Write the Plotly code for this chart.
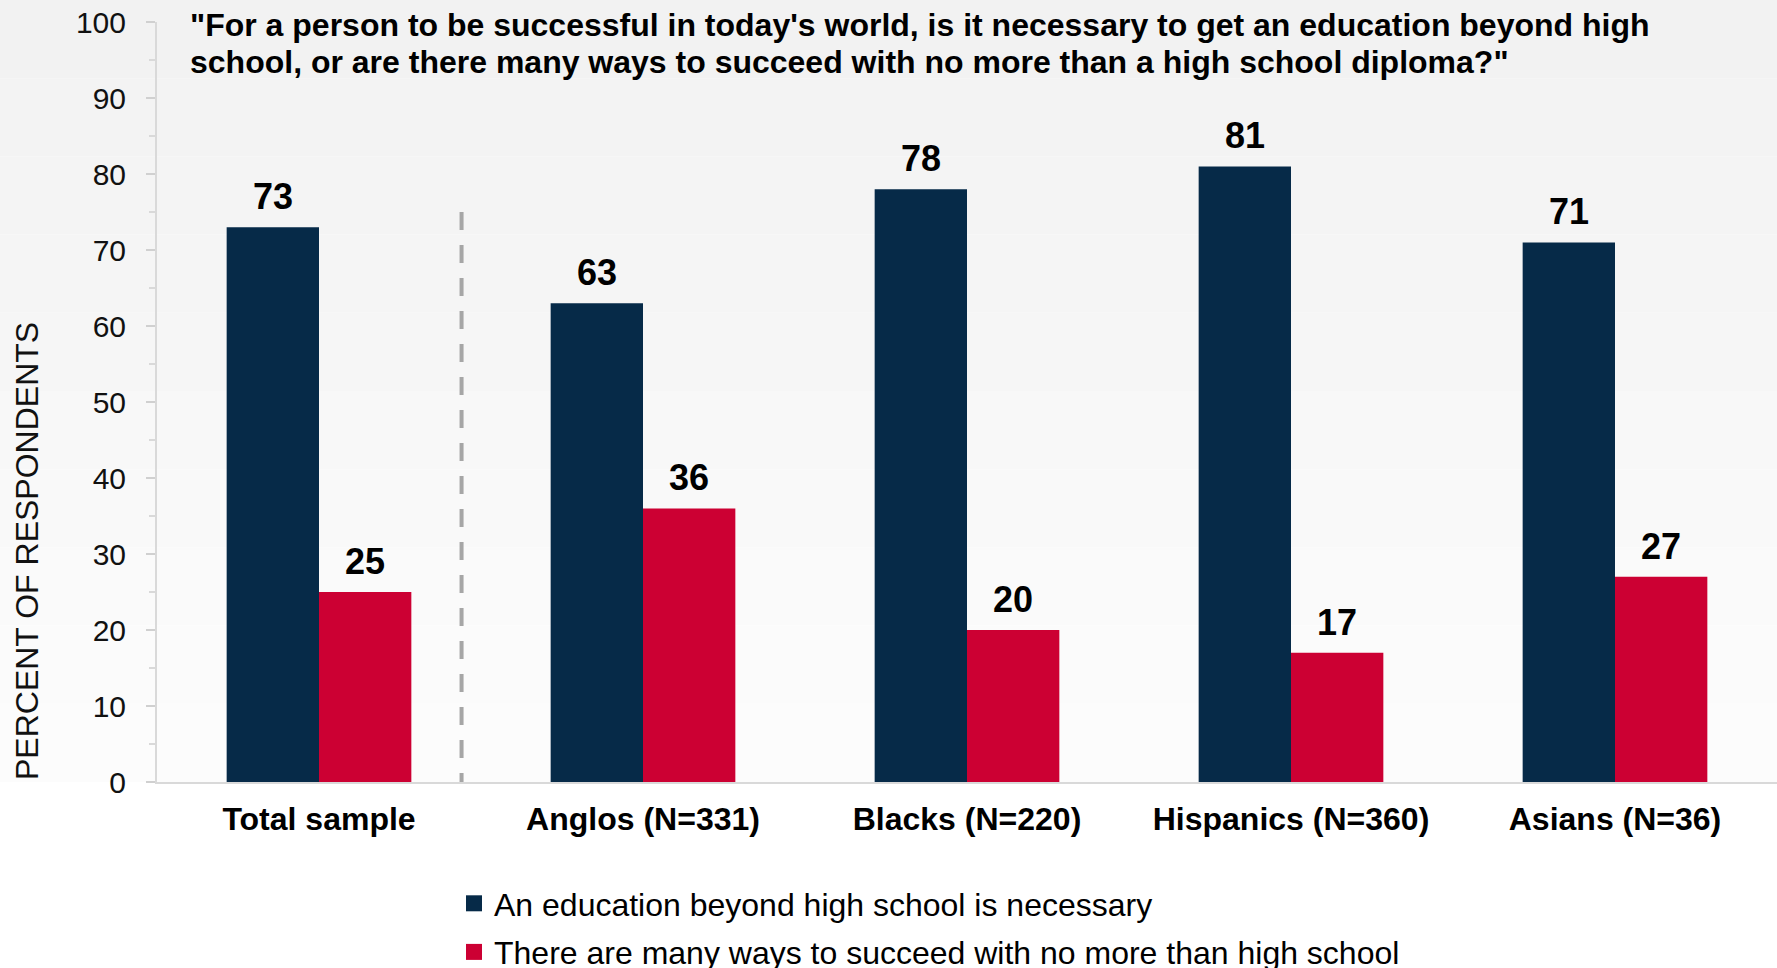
import plotly.graph_objects as go

# Survey results, percent of respondents
groups = ["Total sample", "Anglos (N=331)", "Blacks (N=220)", "Hispanics (N=360)", "Asians (N=36)"]
necessary = [73, 63, 78, 81, 71]
many_ways = [25, 36, 20, 17, 27]
series_names = [
    "An education beyond high school is necessary",
    "There are many ways to succeed with no more than high school",
]
y_ticks = [0, 10, 20, 30, 40, 50, 60, 70, 80, 90, 100]
question_lines = [
    "\"For a person to be successful in today's world, is it necessary to get an education beyond high",
    "school, or are there many ways to succeed with no more than a high school diploma?\"",
]

NAVY = "#062a48"
RED = "#cc0033"
FONT = "Liberation Sans, Arial, sans-serif"

W, H = 1777, 968
M_L, M_R, M_T, M_B = 157, 0, 22, 186
BAR_W = 0.285

x_pos = list(range(len(groups)))

fig = go.Figure()
fig.add_trace(go.Bar(x=x_pos, y=necessary, width=BAR_W, offset=-BAR_W,
                     marker=dict(color=NAVY, line=dict(width=0)), showlegend=False,
                     name=series_names[0]))
fig.add_trace(go.Bar(x=x_pos, y=many_ways, width=BAR_W, offset=0,
                     marker=dict(color=RED, line=dict(width=0)), showlegend=False,
                     name=series_names[1]))

# legend swatches
for name, col, grp in [(series_names[0], NAVY, "a"), (series_names[1], RED, "b")]:
    fig.add_trace(go.Scatter(x=[None], y=[None], mode="markers", name=name,
                             legendgroup=grp,
                             marker=dict(symbol="square", size=16, color=col)))

plot_h = H - M_T - M_B


def py(px):
    """Pixel row from the top of the page -> paper y."""
    return (H - M_B - px) / plot_h


def px_x(px):
    return (px - M_L) / (W - M_L - M_R)


# value labels above each bar
label_font = dict(family=FONT, size=36, color="#000000", weight="bold")
annotations = []
for i, v in enumerate(necessary):
    annotations.append(dict(x=i - BAR_W / 2, y=v, xref="x", yref="y", text=str(v),
                            showarrow=False, yanchor="bottom", yshift=8, font=label_font))
for i, v in enumerate(many_ways):
    annotations.append(dict(x=i + BAR_W / 2, y=v, xref="x", yref="y", text=str(v),
                            showarrow=False, yanchor="bottom", yshift=8, font=label_font))

# question text, one annotation per line
for line, center in zip(question_lines, [25, 62]):
    annotations.append(dict(x=px_x(188), y=py(center), xref="paper", yref="paper", text=line,
                            showarrow=False, xanchor="left", yanchor="middle", align="left",
                            font=dict(family=FONT, size=32, color="#000000", weight="bold")))

annotations.append(dict(x=px_x(27), y=0, xref="paper", yref="paper",
                        text="PERCENT OF RESPONDENTS", textangle=-90,
                        showarrow=False, xanchor="center", yanchor="bottom",
                        font=dict(family=FONT, size=32, color="#111111")))

# soft vertical background gradient
shapes = []
top_px, bot_px = 0, H - M_B
steps = 10
c0, c1 = 242, 252
for k in range(steps):
    y0 = top_px + (bot_px - top_px) * k / steps
    y1 = top_px + (bot_px - top_px) * (k + 1) / steps
    c = round(c0 + (c1 - c0) * k / (steps - 1))
    shapes.append(dict(type="rect", xref="paper", yref="paper",
                       x0=px_x(0), x1=px_x(W), y0=py(y1), y1=py(y0),
                       fillcolor=f"rgb({c},{c},{c})", line=dict(width=0), layer="below"))

# dashed divider between the total and the subgroups
shapes.append(dict(type="line", xref="x", yref="y", x0=0.44, x1=0.44, y0=75, y1=0,
                   line=dict(color="#a6a6a6", width=4, dash="18px,15px"), layer="above"))

fig.update_layout(
    width=W, height=H,
    margin=dict(l=M_L, r=M_R, t=M_T, b=M_B, pad=0, autoexpand=False),
    paper_bgcolor="#ffffff", plot_bgcolor="rgba(0,0,0,0)",
    barmode="overlay",
    font=dict(family=FONT, color="#000000"),
    xaxis=dict(range=[-0.5, 4.5], tickvals=x_pos, ticktext=groups, tickangle=0,
               tickfont=dict(family=FONT, size=32, color="#000000", weight="bold"),
               showline=True, linecolor="#d9d9d9", linewidth=2, ticks="",
               showgrid=False, zeroline=False, automargin=False, fixedrange=True,
               ticklabelstandoff=8),
    yaxis=dict(range=[0, 100], tickvals=y_ticks,
               tickfont=dict(family=FONT, size=30, color="#111111"),
               showline=True, linecolor="#d9d9d9", linewidth=2,
               ticks="outside", ticklen=9, tickwidth=2, tickcolor="#d0d0d0",
               minor=dict(dtick=5, ticks="outside", ticklen=6, tickwidth=2, tickcolor="#d9d9d9"),
               showgrid=False, zeroline=False, automargin=False, fixedrange=True,
               ticklabelstandoff=14),
    legend=dict(xref="container", yref="container", x=454 / W, y=1 - 876 / H,
                xanchor="left", yanchor="top", orientation="v",
                traceorder="grouped", tracegroupgap=4,
                font=dict(family=FONT, size=32, color="#000000"),
                bgcolor="rgba(0,0,0,0)", borderwidth=0),
    annotations=annotations,
    shapes=shapes,
)

fig.write_html("out.html")
